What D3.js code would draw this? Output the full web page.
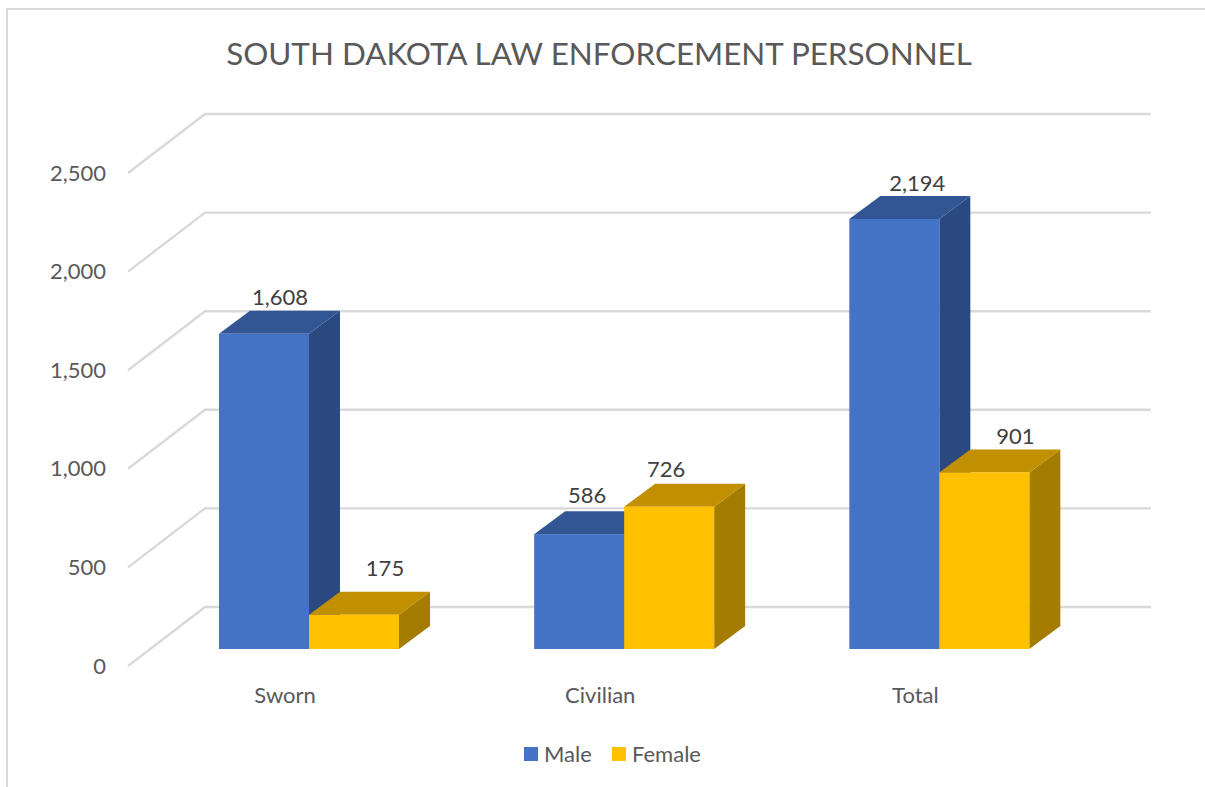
<!DOCTYPE html>
<html>
<head>
<meta charset="utf-8">
<script src="https://cdn.jsdelivr.net/npm/d3@7/dist/d3.min.js"></script>
<style>
html,body{margin:0;padding:0;background:#fff;overflow:hidden}
svg{display:block}
text{font-family:Lato,"Noto Sans",sans-serif}
.tick line,.domain{display:none}
</style>
</head>
<body>
<svg id="c" width="1205" height="787"></svg>
<script>
const titleText = "SOUTH DAKOTA LAW ENFORCEMENT PERSONNEL";
const categories = ["Sworn", "Civilian", "Total"];
const seriesNames = ["Male", "Female"];
const male = [1608, 586, 2194];
const female = [175, 726, 901];
const yTicks = [0, 500, 1000, 1500, 2000, 2500];

const svg = d3.select("#c");
const values = {Male: male, Female: female};
const colors = {
  Male: {front: "#4472C4", top: "#325694", side: "#2A4980"},
  Female: {front: "#FFC000", top: "#C09000", side: "#A47C00"}
};

// label placement: [offset along x from bar left, gap above rear top edge]
const labelOffset = {
  Male: [[61, 14], [53, 16], [68, 13]],
  Female: [[76, 23], [42, 14], [76, 13]]
};

const y = d3.scaleLinear().domain([0, 2500]).range([649, 156]);
// the bars sit slightly forward of the wall, so their scale is a little shorter
const yBar = d3.scaleLinear().domain([0, 2500]).range([649, 159]);
const x0 = d3.scaleBand().domain(categories).range([151.5, 1097]);
const x1 = d3.scaleBand().domain(seriesNames).range([67.5, 247.5]);

// chart frame
svg.append("path").attr("d", "M7,787V9H1205").attr("fill", "none").attr("stroke", "#d9d9d9").attr("stroke-width", 2);

// title
svg.append("text").attr("x", 599).attr("y", 65).attr("text-anchor", "middle")
  .attr("font-size", 31.4).attr("fill", "#595959").text(titleText);

// gridlines on floor/wall
const floorDx = 77, frontDy = 17, backDy = -42;
const grid = svg.append("g");
yTicks.forEach(t => {
  grid.append("path")
    .attr("d", d3.line()([[128, y(t) + frontDy], [128 + floorDx, y(t) + backDy], [1151, y(t) + backDy]]))
    .attr("fill", "none").attr("stroke", "#d9d9d9").attr("stroke-width", 2.4);
});

// value axis
const yAxis = svg.append("g").attr("transform", "translate(106,17)")
  .call(d3.axisLeft(y).tickValues(yTicks).tickSize(0).tickPadding(0).tickFormat(d3.format(",")));
yAxis.selectAll("text").attr("font-size", 22).attr("fill", "#595959");

// category axis
const xAxis = svg.append("g").attr("transform", "translate(-24,687)")
  .call(d3.axisBottom(x0).tickSize(0).tickPadding(0));
xAxis.selectAll("text").attr("font-size", 22).attr("fill", "#595959");

// 3D bars
const dx = 31, dy = -23;
const bars = svg.append("g");
const labels = svg.append("g");
categories.forEach((c, i) => {
  seriesNames.forEach(s => {
    const v = values[s][i], col = colors[s];
    const l = x0(c) + x1(s), r = l + x1.bandwidth(), t = yBar(v), b = yBar(0);
    const line = d3.line();
    bars.append("path").attr("d", line([[r, t], [r + dx, t + dy], [r + dx, b + dy], [r, b]]) + "Z").attr("fill", col.side);
    bars.append("path").attr("d", line([[l, t], [l + dx, t + dy], [r + dx, t + dy], [r, t]]) + "Z").attr("fill", col.top);
    bars.append("rect").attr("x", l).attr("y", t).attr("width", r - l).attr("height", b - t).attr("fill", col.front);
    const [ox, oy] = labelOffset[s][i];
    labels.append("text").attr("x", l + ox).attr("y", t + dy - oy).attr("dy", "0.35em")
      .attr("text-anchor", "middle").attr("font-size", 22).attr("fill", "#404040").text(d3.format(",")(v));
  });
});

// legend
const legendX = {Male: 524, Female: 612};
const legend = svg.append("g");
seriesNames.forEach(s => {
  legend.append("rect").attr("x", legendX[s]).attr("y", 747).attr("width", 14).attr("height", 14).attr("fill", colors[s].front);
  legend.append("text").attr("x", legendX[s] + 20).attr("y", 754).attr("dy", "0.35em")
    .attr("font-size", 22).attr("fill", "#595959").text(s);
});
</script>
</body>
</html>
